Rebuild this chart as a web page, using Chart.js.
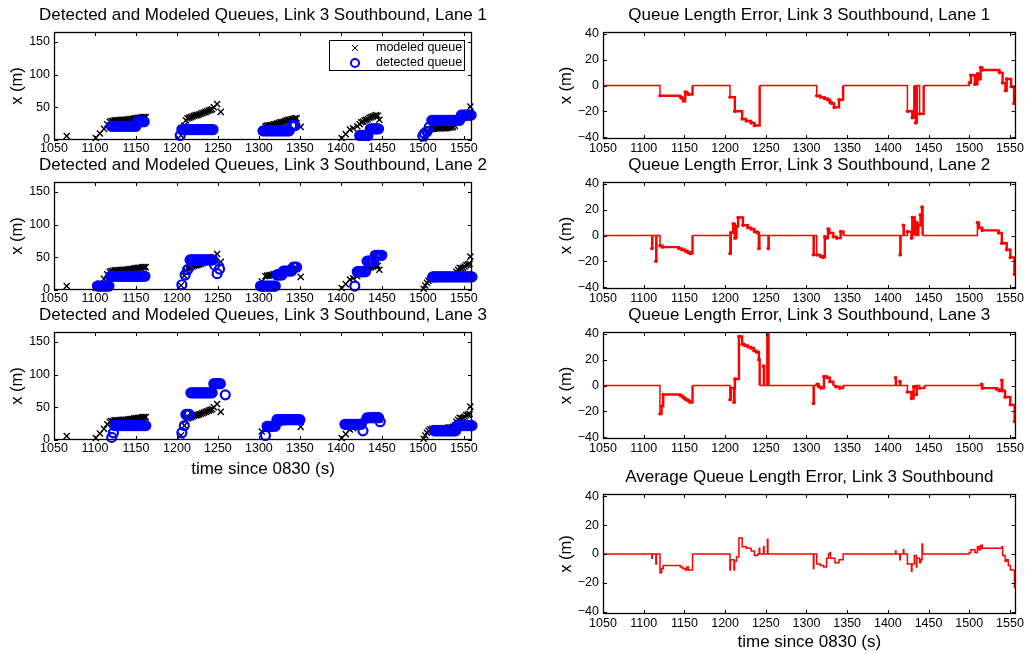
<!DOCTYPE html>
<html lang="en">
<head>
<meta charset="UTF-8">
<title>Link 3 Southbound Queues</title>
<script src="https://cdn.jsdelivr.net/npm/chart.js"></script>
<style>
  body { margin: 0; background: #fff; }
  #page { position: relative; width: 1026px; height: 654px; overflow: hidden; background: #fff; }
  canvas { position: absolute; }
</style>
</head>
<body>
<div id="page">
  <canvas id="queue1" width="500" height="160" style="left:0;top:0"></canvas>
  <canvas id="queue2" width="500" height="160" style="left:0;top:150px"></canvas>
  <canvas id="queue3" width="500" height="180" style="left:0;top:300px"></canvas>
  <canvas id="error1" width="486" height="160" style="left:540px;top:0"></canvas>
  <canvas id="error2" width="486" height="160" style="left:540px;top:150px"></canvas>
  <canvas id="error3" width="486" height="160" style="left:540px;top:300px"></canvas>
  <canvas id="errorAvg" width="486" height="192" style="left:540px;top:462px"></canvas>
</div>
<script>
// tick positions
const timeTicks = [1050, 1100, 1150, 1200, 1250, 1300, 1350, 1400, 1450, 1500, 1550];
const queueTicks = [0, 50, 100, 150];
const errorTicks = [-40, -20, 0, 20, 40];

// modeled queue tail position (s, m) - same model for every lane
const modeledQueue = [
  [1065.5, 6], [1101, 3], [1106, 10], [1111, 17], [1115, 24], [1118, 28],
  [1120, 29], [1122, 29], [1124, 30], [1126, 30], [1128, 30], [1130, 30], [1132, 31], [1134, 31], [1136, 31],
  [1138, 31], [1140, 31], [1142, 32], [1144, 32], [1146, 32], [1148, 33], [1150, 33], [1152, 34], [1154, 34],
  [1156, 34], [1158, 35], [1160, 35], [1162, 35],
  [1205, 7], [1209, 22], [1211, 30], [1213, 33], [1215, 34], [1217, 35], [1219, 36], [1221, 37], [1223, 38],
  [1225, 38], [1227, 39], [1229, 40], [1231, 41], [1233, 42], [1235, 43], [1237, 44], [1239, 45], [1241, 46],
  [1243, 47], [1245, 50], [1249, 55], [1253.5, 43],
  [1303.5, 13], [1308, 21], [1310, 22], [1312, 22], [1314, 23], [1316, 23], [1318, 24], [1320, 24], [1322, 25],
  [1324, 26], [1326, 27], [1328, 27], [1330, 28], [1332, 29], [1334, 30], [1336, 31], [1338, 31], [1340, 32],
  [1342, 32], [1344, 33], [1346, 33], [1351, 20],
  [1401, 3], [1406, 9], [1411, 16], [1415, 18], [1420, 21], [1423, 24], [1425, 27], [1427, 28], [1429, 30],
  [1431, 31], [1433, 32], [1435, 34], [1437, 35], [1439, 36], [1441, 37], [1443, 38], [1445, 37], [1447, 31],
  [1501, 2], [1503, 7], [1505, 11], [1507, 14], [1509, 16], [1511, 17], [1513, 17], [1515, 18], [1517, 18],
  [1519, 18], [1521, 18], [1523, 18], [1525, 18], [1527, 18], [1529, 18], [1531, 19], [1533, 19], [1535, 19],
  [1537, 20], [1539, 22], [1541, 28], [1543, 31], [1545, 34], [1547, 33], [1549, 34], [1551, 36], [1553, 38],
  [1555, 39], [1557, 40], [1558, 51]
];

// detected queue tail position per lane (s, m)
const lane1Detected = [
  [1120, 21], [1122, 21], [1124, 21], [1126, 21], [1128, 21], [1130, 21], [1132, 21], [1134, 21], [1136, 21],
  [1138, 21], [1140, 21], [1142, 21], [1144, 21], [1146, 21], [1148, 21], [1150, 21],
  [1152, 28], [1154, 28], [1156, 28], [1158, 28], [1160, 28],
  [1204, 7], [1206, 16], [1208, 16], [1210, 16], [1212, 16], [1214, 16], [1216, 16], [1218, 16], [1220, 16],
  [1222, 16], [1224, 16], [1226, 16], [1228, 16], [1230, 16], [1232, 16], [1234, 16], [1236, 16], [1238, 16],
  [1240, 16], [1242, 16], [1244, 16],
  [1305, 14], [1307, 14], [1309, 14], [1311, 14], [1313, 14], [1315, 14], [1317, 14], [1319, 14], [1321, 14],
  [1323, 14], [1325, 14], [1327, 14], [1329, 14], [1331, 14], [1333, 14], [1335, 14], [1337, 14],
  [1340, 22], [1342, 22], [1344, 22],
  [1423, 7], [1425, 7], [1427, 7], [1429, 7], [1431, 7], [1433, 7],
  [1436, 17], [1438, 17], [1440, 17], [1442, 17], [1444, 17], [1446, 17],
  [1500, 6], [1502, 10], [1505, 13], [1508, 20],
  [1511, 30], [1513, 30], [1515, 30], [1517, 30], [1519, 30], [1521, 30], [1523, 30], [1525, 30], [1527, 30],
  [1529, 30], [1531, 30], [1533, 30], [1535, 30], [1537, 30], [1539, 30], [1541, 30], [1543, 30], [1545, 30],
  [1547, 38], [1549, 38], [1551, 38], [1553, 38], [1555, 38], [1557, 38], [1559, 38]
];

const lane2Detected = [
  [1103, 6], [1105, 6], [1107, 6], [1109, 6], [1111, 6], [1113, 6], [1115, 6], [1117, 6],
  [1119, 21], [1121, 21], [1123, 21], [1125, 21], [1127, 21], [1129, 21], [1131, 21], [1133, 21], [1135, 21],
  [1137, 21], [1139, 21], [1141, 21], [1143, 21], [1145, 21], [1147, 21], [1149, 21], [1151, 21], [1153, 21],
  [1155, 21], [1157, 21], [1159, 21], [1161, 21],
  [1206, 8], [1210, 23], [1213, 31],
  [1216, 46], [1218, 46], [1220, 46], [1222, 46], [1224, 46], [1226, 46], [1228, 46], [1230, 46], [1232, 46],
  [1234, 46], [1236, 46], [1238, 46], [1240, 46], [1242, 46], [1244, 46],
  [1246, 38], [1249, 25], [1252, 32],
  [1302, 6], [1304, 6], [1306, 6], [1308, 6], [1310, 6], [1312, 6], [1314, 6], [1316, 6], [1318, 6], [1320, 6],
  [1322, 23], [1324, 23], [1326, 23], [1328, 23],
  [1330, 29], [1332, 29], [1334, 29], [1336, 29], [1338, 29], [1340, 29],
  [1342, 35], [1344, 35], [1346, 35],
  [1417, 6],
  [1420, 28], [1422, 28], [1424, 28], [1426, 28], [1428, 28], [1430, 28],
  [1432, 44], [1434, 44], [1436, 44], [1438, 44], [1440, 44],
  [1442, 53], [1444, 53], [1446, 53], [1448, 53], [1450, 53],
  [1512, 20], [1514, 20], [1516, 20], [1518, 20], [1520, 20], [1522, 20], [1524, 20], [1526, 20], [1528, 20],
  [1530, 20], [1532, 20], [1534, 20], [1536, 20], [1538, 20], [1540, 20], [1542, 20], [1544, 20], [1546, 20],
  [1548, 20], [1550, 20], [1552, 20], [1554, 20], [1556, 20], [1558, 20], [1560, 20]
];

const lane3Detected = [
  [1120.5, 4], [1122.5, 11],
  [1124, 22], [1126, 22], [1128, 22], [1130, 22], [1132, 22], [1134, 22], [1136, 22], [1138, 22], [1140, 22],
  [1142, 22], [1144, 22], [1146, 22], [1148, 22], [1150, 22], [1152, 22], [1154, 22], [1156, 22], [1158, 22],
  [1160, 22], [1162, 22],
  [1206, 11], [1209, 22], [1211, 39], [1213, 39], [1215, 39],
  [1217, 72], [1219, 72], [1221, 72], [1223, 72], [1225, 72], [1227, 72], [1229, 72], [1231, 72], [1233, 72],
  [1235, 72], [1237, 72], [1239, 72], [1241, 72], [1243, 72],
  [1245, 86], [1247, 86], [1249, 86], [1251, 86], [1253, 86], [1259, 69],
  [1308, 7], [1310, 21], [1312, 21], [1314, 21], [1316, 21], [1318, 21], [1320, 21],
  [1322, 31], [1324, 31], [1326, 31], [1328, 31], [1330, 31], [1332, 31], [1334, 31], [1336, 31], [1338, 31],
  [1340, 31], [1342, 31], [1344, 31], [1346, 31], [1348, 31], [1350, 31],
  [1405, 24], [1407, 24], [1409, 24], [1411, 24], [1413, 24], [1415, 24], [1417, 24], [1419, 24], [1421, 24],
  [1423, 24], [1425, 24], [1427, 14],
  [1432, 34], [1434, 34], [1436, 34], [1438, 34], [1440, 34], [1442, 34], [1444, 34], [1446, 34], [1448, 28],
  [1514, 14], [1516, 14], [1518, 14], [1520, 14], [1522, 14], [1524, 14], [1526, 14], [1528, 14], [1530, 14],
  [1532, 14], [1534, 14], [1536, 14], [1538, 14], [1540, 14],
  [1542, 22], [1544, 22], [1546, 22], [1548, 22], [1550, 22], [1552, 22], [1554, 22], [1556, 22], [1558, 22],
  [1560, 22]
];

// queue length error (detected - modeled), value holds from each time until the next
const lane1Error = [
  [1050, 0], [1120, -8], [1145, -9], [1147, -10], [1149, -12], [1151, -5], [1153, -6], [1155, -7], [1160, 0],
  [1206, -9], [1212, -20], [1221, -26], [1226, -27.5], [1232, -29], [1236, -31], [1242.5, 0],
  [1312.6, -8], [1317, -9], [1322, -10], [1326, -11], [1329, -13], [1331, -14], [1334, -17], [1340, -11], [1345, 0],
  [1424, -20], [1430, -25], [1432.5, 0], [1434, -29], [1435.5, 0], [1439, -22], [1444, 0],
  [1500, 2], [1502, 8], [1507, 1], [1510, 9], [1512, 5], [1514, 14], [1516, 12], [1537, 10], [1541, 2],
  [1544.5, -4], [1546, 5], [1551.5, -1], [1555, -14], [1557, -14]
];

const lane2Error = [
  [1050, 0], [1110, -10], [1110.6, 0], [1115, -20], [1115.6, 0], [1120, -8], [1123, -9], [1143, -10], [1147, -11],
  [1151, -12], [1154, -13], [1157, -14], [1160, 0],
  [1206, -14], [1207, 2], [1210, 9], [1212, -2], [1214, 7], [1216, 14], [1222, 8], [1228, 6], [1232, 5], [1236, 3],
  [1240, 2], [1241.5, -10], [1242.2, 0], [1253, -10], [1253.6, 0],
  [1308.5, -15], [1309.1, 0], [1312.6, -15], [1317, -16], [1320, -17], [1322.5, -1], [1324, -2], [1326.5, 5],
  [1328, 2], [1333, -1], [1337, -2], [1342, 3], [1345.5, 0],
  [1415, -15], [1415.6, 0], [1419, 8], [1419.6, 0], [1424, 3], [1429, -2], [1430, 14], [1433, 0], [1435, 10],
  [1436.3, 0], [1438, 8], [1440, 16], [1442, 22], [1442.7, 0],
  [1510, 10], [1512, 6], [1516, 4], [1536, 2], [1540, -6], [1546, -11], [1550.5, -17], [1555.5, -30], [1557, -30]
];

const lane3Error = [
  [1050, 0], [1120, -22], [1122, -16], [1124, -7], [1145, -8], [1148, -9], [1150, -10], [1152, -11], [1155, -12],
  [1157, -13], [1160, 0],
  [1206, -11], [1207, -2], [1211, -13], [1211.6, -2], [1212, 5], [1217, 38], [1221, 32], [1224, 31], [1228, 30],
  [1232, 29], [1235.5, 27], [1238.5, 26], [1241.5, 20], [1242.5, 0],
  [1247.3, 15], [1247.9, 0], [1251.6, 42], [1252.2, 0], [1252.8, 42], [1253.4, 0],
  [1308.5, -14], [1309.1, 0], [1313, 1], [1315, -1], [1318, -2], [1321.5, 7], [1325.5, 6], [1328.8, 3],
  [1333, 0], [1336, -1], [1341, -2], [1345, 0],
  [1409.4, 6], [1410, 0], [1414.7, 3], [1415.3, 0],
  [1424, -5], [1429, -10], [1431.7, -1], [1433, 0], [1435, -7], [1435.6, 0], [1439, -2], [1445, 0],
  [1515, 1], [1516, -2], [1534, -3], [1537, -4], [1540, 4], [1540.6, -4], [1544, -9], [1550.4, -15],
  [1555.7, -28], [1557, -28]
];

const averageError = [
  [1050, 0], [1110, -3], [1110.6, 0], [1115, -7], [1115.6, 0], [1120, -13], [1122, -10], [1124, -8], [1145, -9],
  [1148, -10], [1151, -11], [1153, -9], [1155, -11], [1160, 0],
  [1206, -11], [1206.6, -4], [1211, -11], [1211.6, -5], [1214, -2], [1217, 11], [1221, 5], [1226, 4], [1232, 2],
  [1236, -1], [1240, 0], [1242, 4], [1242.6, 0], [1247.3, 5], [1247.9, 0], [1252, 10], [1252.6, 0],
  [1308.5, -10], [1309.1, 0], [1312.6, -7], [1317, -8], [1321, -9], [1324.7, -3], [1327, 0], [1328.8, 1],
  [1329.5, -3], [1335, -6], [1340, -4], [1345, 0],
  [1409.4, 2], [1410, 0], [1414.7, -4], [1415.3, 0], [1419, 3], [1419.6, 0], [1424, -7], [1429, -12],
  [1429.6, -7], [1432.5, -1], [1435, -9], [1435.6, -3], [1439, -6], [1440.5, -4], [1442, 7], [1442.6, 0],
  [1500, 1], [1502, 3], [1507, 1], [1510, 5], [1512, 3], [1514, 6], [1516, 4], [1540, 5], [1541, -1],
  [1544, -5], [1546, -4], [1548, -8], [1550.5, -11], [1555.5, -23], [1557, -23]
];

const FONT = '"Liberation Sans", Arial, Helvetica, sans-serif';
const RED = '#ff0000';
const toXY = pairs => pairs.map(([t, v]) => ({ x: t, y: v }));
const fmt = v => (v < 0 ? '\u2212' + Math.abs(v) : String(v));

// box round the plot area with inward ticks on all four sides
const boxTicks = {
  id: 'boxTicks',
  afterDraw(chart) {
    const { ctx, chartArea: a, scales: { x, y } } = chart;
    const len = 4;
    ctx.save();
    ctx.strokeStyle = '#000';
    ctx.lineWidth = 1;
    ctx.beginPath();
    x.ticks.forEach(t => {
      const px = Math.round(x.getPixelForValue(t.value)) + 0.5;
      ctx.moveTo(px, a.bottom); ctx.lineTo(px, a.bottom - len);
      ctx.moveTo(px, a.top); ctx.lineTo(px, a.top + len);
    });
    y.ticks.forEach(t => {
      const py = Math.round(y.getPixelForValue(t.value)) + 0.5;
      ctx.moveTo(a.left, py); ctx.lineTo(a.left + len, py);
      ctx.moveTo(a.right, py); ctx.lineTo(a.right - len, py);
    });
    ctx.stroke();
    ctx.lineWidth = 1.3;
    ctx.strokeRect(Math.round(a.left) + 0.5, Math.round(a.top) + 0.5,
      Math.round(a.right - a.left) - 1, Math.round(a.bottom - a.top) - 1);
    ctx.restore();
  }
};

// let the title run wider than the plot it is centred over (no squeezing)
const wideTitle = {
  id: 'wideTitle',
  afterLayout(chart) {
    const t = chart.titleBlock;
    if (t) { t.left -= 40; t.right += 40; t.width += 80; }
  }
};

// boxed legend in the upper right corner of the plot
const queueLegend = {
  id: 'queueLegend',
  afterDraw(chart, args, opts) {
    if (!opts.display) return;
    const { ctx, chartArea: a } = chart;
    const w = 136, h = 31;
    const left = a.right - 7 - w, top = a.top + 8;
    ctx.save();
    ctx.fillStyle = '#fff';
    ctx.fillRect(left, top, w, h);
    ctx.strokeStyle = '#000';
    ctx.lineWidth = 1;
    ctx.strokeRect(left + 0.5, top + 0.5, w - 1, h - 1);
    ctx.font = '12.5px ' + FONT;
    ctx.textBaseline = 'middle';
    chart.data.datasets.forEach((ds, i) => {
      const cx = left + 26, cy = top + 8 + i * 15;
      ctx.strokeStyle = ds.borderColor;
      ctx.lineWidth = ds.pointStyle === 'crossRot' ? 1 : 2;
      ctx.beginPath();
      if (ds.pointStyle === 'crossRot') {
        ctx.moveTo(cx - 3, cy - 3); ctx.lineTo(cx + 3, cy + 3);
        ctx.moveTo(cx - 3, cy + 3); ctx.lineTo(cx + 3, cy - 3);
      } else {
        ctx.arc(cx, cy, 4, 0, Math.PI * 2);
      }
      ctx.stroke();
      ctx.fillStyle = '#000';
      ctx.fillText(ds.label, left + 47, cy);
    });
    ctx.restore();
  }
};

function scales(o) {
  return {
    x: {
      type: 'linear', min: 1050, max: o.xMax,
      afterBuildTicks: s => { s.ticks = timeTicks.map(v => ({ value: v })); },
      afterFit: s => { s.height = o.xAxisHeight; },
      grid: { display: false, drawTicks: false },
      border: { display: false },
      ticks: { color: '#000', font: { family: FONT, size: 12.5 }, padding: o.xTickPad,
        maxRotation: 0, autoSkip: false, callback: fmt },
      title: { display: !!o.xTitle, text: o.xTitle || '', color: '#000',
        font: { family: FONT, size: 17 }, padding: { top: 0, bottom: o.xTitlePad || 0 } }
    },
    y: {
      type: 'linear', min: o.yMin, max: o.yMax,
      afterBuildTicks: s => { s.ticks = o.yTicks.map(v => ({ value: v })); },
      afterFit: s => { s.width = o.yAxisWidth; },
      grid: { display: false, drawTicks: false },
      border: { display: false },
      ticks: { color: '#000', font: { family: FONT, size: 12.5 }, padding: 4, callback: fmt },
      title: { display: true, text: 'x (m)', color: '#000', font: { family: FONT, size: 16.5 },
        padding: { top: o.yTitlePad, bottom: 0 } }
    }
  };
}

function titleOpts(text) {
  return {
    display: true, text, fullSize: false, color: '#000',
    font: { family: FONT, size: 17, weight: 'normal' },
    padding: { top: 5, bottom: 6.6 }
  };
}

function queueChart(id, lane, detected, withLegend, xTitle, xAxisHeight) {
  new Chart(document.getElementById(id), {
    type: 'scatter',
    data: {
      datasets: [
        { label: 'modeled queue', data: toXY(modeledQueue), pointStyle: 'crossRot', pointRadius: 4.3,
          borderColor: '#000', backgroundColor: '#000', borderWidth: 1.4, order: 2, clip: 8 },
        { label: 'detected queue', data: toXY(detected), pointStyle: 'circle', pointRadius: 4.5,
          borderColor: '#0000ff', backgroundColor: 'rgba(0,0,0,0)', borderWidth: 2.2, order: 1, clip: 8 }
      ]
    },
    options: {
      responsive: false, animation: false, events: [],
      layout: { padding: { left: 0, right: 28, top: 0, bottom: 0 } },
      scales: scales({ xMax: 1560, yMin: 0, yMax: 165, yTicks: queueTicks, yAxisWidth: 54,
        yTitlePad: 8, xAxisHeight, xTickPad: 1, xTitle, xTitlePad: 0 }),
      plugins: {
        title: titleOpts('Detected and Modeled Queues, Link 3 Southbound, ' + lane),
        legend: { display: false }, tooltip: { enabled: false },
        queueLegend: { display: withLegend }
      }
    },
    plugins: [wideTitle, boxTicks, queueLegend]
  });
}

function errorChart(id, title, series, dotted, xTitle, xAxisHeight) {
  new Chart(document.getElementById(id), {
    type: 'line',
    data: {
      datasets: [{
        data: toXY(series), stepped: true, borderColor: RED, borderWidth: 1.5,
        pointRadius: c => (dotted && c.raw && c.raw.y !== 0 ? 1.8 : 0),
        pointBackgroundColor: RED, pointBorderColor: RED, pointBorderWidth: 0,
        segment: {
          borderWidth: c => (dotted && c.p0.parsed.y !== 0 ? 2.4 : 1.5)
        }
      }]
    },
    options: {
      responsive: false, animation: false, events: [],
      layout: { padding: { left: 0, right: 6, top: 0, bottom: 0 } },
      scales: scales({ xMax: 1557, yMin: -41.5, yMax: 41.5, yTicks: errorTicks, yAxisWidth: 63,
        yTitlePad: 17, xAxisHeight, xTickPad: 2, xTitle, xTitlePad: 1 }),
      plugins: {
        title: titleOpts(title),
        legend: { display: false }, tooltip: { enabled: false }
      }
    },
    plugins: [wideTitle, boxTicks]
  });
}

queueChart('queue1', 'Lane 1', lane1Detected, true, null, 20);
queueChart('queue2', 'Lane 2', lane2Detected, false, null, 20);
queueChart('queue3', 'Lane 3', lane3Detected, false, 'time since 0830 (s)', 40);

errorChart('error1', 'Queue Length Error, Link 3 Southbound, Lane 1', lane1Error, true, null, 21);
errorChart('error2', 'Queue Length Error, Link 3 Southbound, Lane 2', lane2Error, true, null, 21);
errorChart('error3', 'Queue Length Error, Link 3 Southbound, Lane 3', lane3Error, true, null, 21);
errorChart('errorAvg', 'Average Queue Length Error, Link 3 Southbound', averageError, false, 'time since 0830 (s)', 40);
</script>
</body>
</html>
